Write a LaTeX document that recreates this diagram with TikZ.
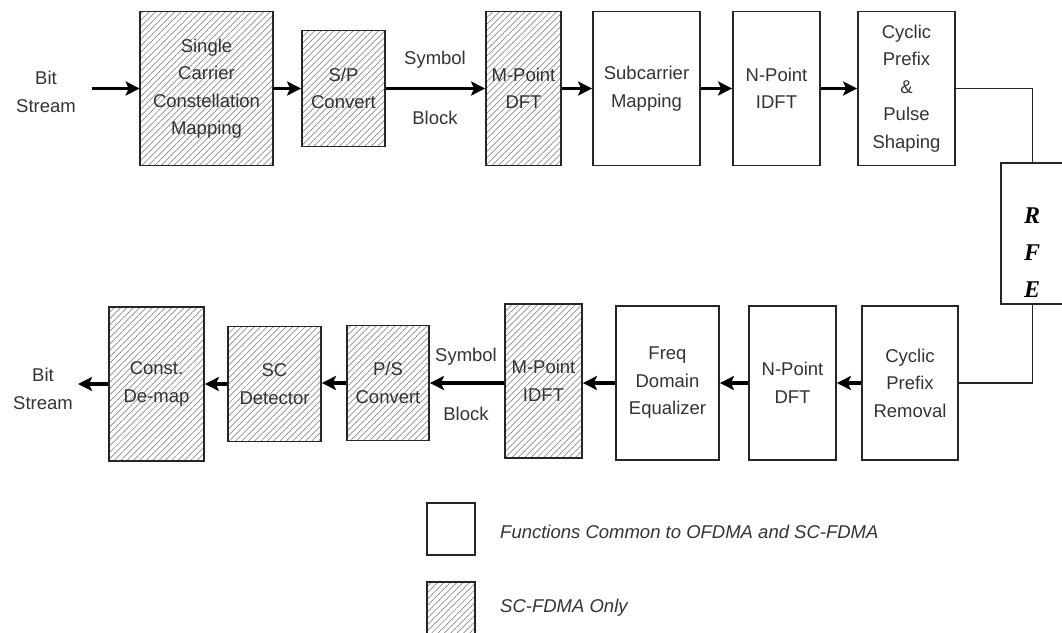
\documentclass[tikz,border=0pt]{standalone}
\usepackage{fontspec}
\setmainfont{Liberation Sans}
\newfontfamily\serifrfe{Liberation Serif}
\usetikzlibrary{arrows.meta,patterns.meta}
\begin{document}
\begin{tikzpicture}[x=1pt,y=-1pt,
  every node/.style={text=black!80},
  lbl/.style={font=\fontsize{18.5}{27.5}\selectfont, align=center, inner sep=0pt},
  box/.style={lbl, draw=black!85, line width=1.8pt, minimum width=#1},
  tall/.style={minimum height=154pt},
  hatch/.style={pattern={Lines[angle=45,distance=4.5pt,line width=0.7pt]}, pattern color=black!45},
  arr/.style={line width=3.4pt, -{Stealth[length=14pt,width=14pt,inset=3pt]}},
  thinline/.style={line width=1.6pt, draw=black!85},
  legend/.style={font=\fontsize{18.5}{22}\selectfont\itshape, anchor=west, inner sep=0pt}
]
\useasboundingbox (0,0) rectangle (1062,632);
% top row
\node[lbl] (bsin) at (46,92) {Bit\\Stream};
\coordinate (in) at (92,88.5);
\node[box=133pt, tall, hatch] (scm) at (206.5,88.5) {Single\\Carrier\\Constellation\\Mapping};
\node[box=83pt, minimum height=116pt, hatch] (sp) at (343.5,88.5) {S/P\\Convert};
\node[box=75pt, tall, hatch] (mdft) at (523.5,88.5) {M-Point\\DFT};
\node[box=107pt, tall] (subm) at (646.5,88.5) {Subcarrier\\Mapping};
\node[box=87pt, tall] (nidft) at (776.5,88.5) {N-Point\\IDFT};
\node[box=97pt, tall] (cp) at (906.5,88.5) {Cyclic\\Prefix\\\&\\Pulse\\Shaping};
\node[lbl] (sym1) at (435,60) {Symbol};
\node[lbl] (blk1) at (435,118) {Block};
\draw[arr] (in) -- (scm.west);
\draw[arr] (scm.east) -- (sp.west);
\draw[arr] (sp.east) -- (mdft.west);
\draw[arr] (mdft.east) -- (subm.west);
\draw[arr] (subm.east) -- (nidft.west);
\draw[arr] (nidft.east) -- (cp.west);
% RFE
\node[draw=black!85, line width=1.8pt, minimum width=63pt, minimum height=141pt, inner sep=0pt] (rfe) at (1032.5,233.5) {};
\node[font=\serifrfe\bfseries\itshape\fontsize{24}{37}\selectfont, align=center, inner sep=0pt, text=black] (rfet) at (1032,253) {R\\F\\E};
\draw[thinline] (cp.east) -| (rfe.north);
% bottom row
\node[box=96pt, tall] (cpr) at (910,383) {Cyclic\\Prefix\\Removal};
\node[box=87pt, tall] (ndft) at (792.5,383) {N-Point\\DFT};
\node[box=103pt, tall] (fde) at (667.5,383) {Freq\\Domain\\Equalizer};
\node[box=77pt, tall, hatch] (midft) at (543.5,381) {M-Point\\IDFT};
\node[box=82pt, minimum height=115pt, hatch] (ps) at (388,383) {P/S\\Convert};
\node[box=93pt, minimum height=115pt, hatch] (scd) at (274.5,384) {SC\\Detector};
\node[box=95pt, tall, hatch] (cdm) at (156.5,384) {Const.\\De-map};
\node[lbl] (bsout) at (43,389) {Bit\\Stream};
\coordinate (out) at (78,384);
\node[lbl] (sym2) at (466,357) {Symbol};
\node[lbl] (blk2) at (466,414) {Block};
\draw[thinline] (rfe.south) |- (cpr.east);
\draw[arr] (cpr.west) -- (ndft.east);
\draw[arr] (ndft.west) -- (fde.east);
\draw[arr] (fde.west) -- (midft.east |- fde.west);
\draw[arr] (midft.west |- ps.east) -- (ps.east);
\draw[arr] (ps.west) -- (scd.east |- ps.west);
\draw[arr] (scd.west) -- (cdm.east |- scd.west);
\draw[arr] (cdm.west) -- (out);
% legend
\node[draw=black!85, line width=1.8pt, minimum width=48pt, minimum height=52pt, inner sep=0pt] (leg1) at (451,529) {};
\node[draw=black!85, line width=1.8pt, minimum width=48pt, minimum height=52pt, inner sep=0pt, hatch] (leg2) at (451,608) {};
\node[legend] (legt1) at (500,532) {Functions Common to OFDMA and SC-FDMA};
\node[legend] (legt2) at (500,608) {SC-FDMA Only};
\end{tikzpicture}
\end{document}
